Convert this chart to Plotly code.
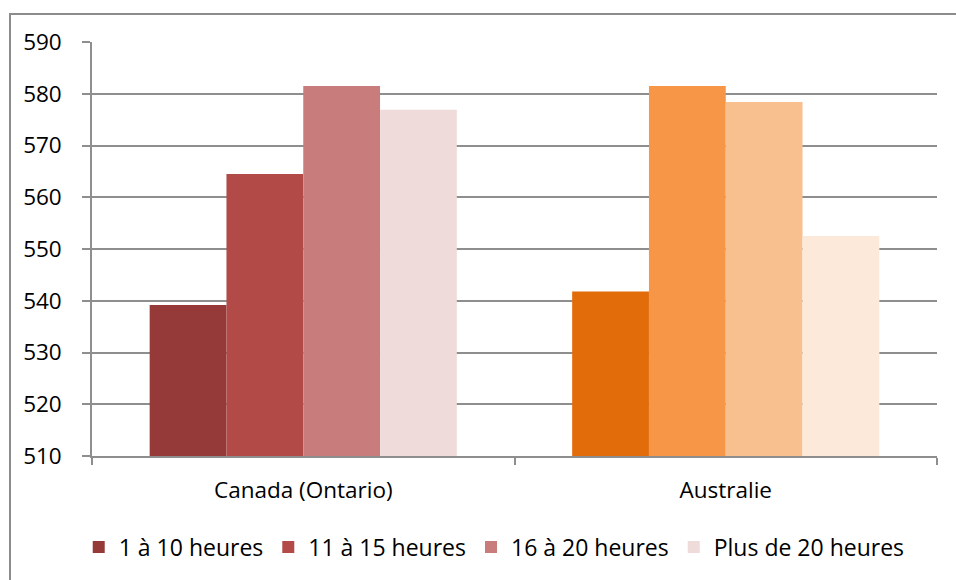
import plotly.graph_objects as go

# Mean scores by weekly hours, two jurisdictions
countries = ["Canada (Ontario)", "Australie"]
series_names = ["1 à 10 heures", "11 à 15 heures", "16 à 20 heures", "Plus de 20 heures"]
values_1_10 = [539.2, 541.8]
values_11_15 = [564.5, 581.5]
values_16_20 = [581.5, 578.4]
values_20_plus = [576.9, 552.5]

# Each series is red for Canada and orange for Australia
canada_colors = ["#953A39", "#B24A48", "#C87C7C", "#F0DBDB"]
australia_colors = ["#E26B0A", "#F79646", "#F9C08F", "#FDE9DA"]

all_values = [values_1_10, values_11_15, values_16_20, values_20_plus]

fig = go.Figure()
for name, vals, c_can, c_aus in zip(series_names, all_values, canada_colors, australia_colors):
    fig.add_trace(go.Bar(
        x=countries,
        y=vals,
        name=name,
        marker=dict(color=[c_can, c_aus], line=dict(width=0)),
        hoverinfo="x+y+name",
    ))

font_family = "Open Sans, Noto Sans, DejaVu Sans, sans-serif"
grid_col = "#8e8e8e"

fig.update_layout(
    width=956,
    height=580,
    margin=dict(l=92, r=19, t=42, b=124, pad=0),
    paper_bgcolor="white",
    plot_bgcolor="white",
    barmode="group",
    bargap=0.273,
    bargroupgap=0,
    font=dict(family=font_family, size=22.5, color="#000000"),
    showlegend=True,
    legend=dict(
        orientation="h",
        x=0.476,
        xanchor="center",
        y=-0.22,
        yanchor="middle",
        font=dict(size=23, family=font_family),
        itemwidth=30,
        tracegroupgap=0,
    ),
    xaxis=dict(
        type="category",
        showline=True,
        linecolor=grid_col,
        linewidth=1.5,
        showgrid=False,
        ticks="outside",
        tickson="boundaries",
        ticklen=7,
        tickwidth=1.5,
        tickcolor=grid_col,
        ticklabelstandoff=13,
        zeroline=False,
    ),
    yaxis=dict(
        range=[510, 590],
        dtick=10,
        tick0=510,
        showline=True,
        linecolor=grid_col,
        linewidth=1.5,
        showgrid=True,
        gridcolor=grid_col,
        gridwidth=1.5,
        ticks="outside",
        ticklen=8,
        tickwidth=1.5,
        tickcolor=grid_col,
        ticklabelstandoff=16,
        zeroline=False,
    ),
    shapes=[
        dict(
            type="rect",
            xref="paper", yref="paper",
            x0=(10 - 92) / 845, x1=(965 - 92) / 845,
            y0=(456 - 600) / 414, y1=(456 - 14) / 414,
            line=dict(color="#8c8c8c", width=2),
            fillcolor="rgba(0,0,0,0)",
            layer="below",
        )
    ],
)

fig.write_html("out.html")
